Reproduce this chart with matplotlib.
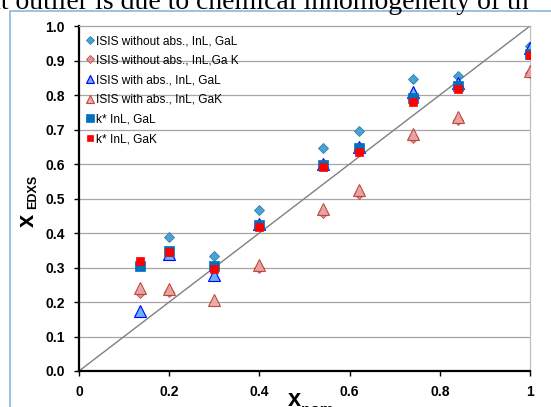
import numpy as np
import matplotlib
matplotlib.use('Agg')
import matplotlib.pyplot as plt
from matplotlib.patches import Rectangle

plt.rcParams['font.family'] = ['Liberation Sans', 'DejaVu Sans']

# nominal composition
x_nom = [0.135, 0.2, 0.3, 0.4, 0.54, 0.62, 0.74, 0.84, 1.0]

# measured x_EDXS for each method
isis_noabs_gal = [0.31, 0.388, 0.332, 0.467, 0.645, 0.695, 0.846, 0.855, 0.943]
isis_noabs_gak = [0.227, 0.23, np.nan, 0.298, 0.458, 0.512, 0.674, 0.728, 0.863]
isis_abs_gal = [0.175, 0.339, 0.278, 0.426, 0.60, 0.65, 0.81, 0.834, 0.936]
isis_abs_gak = [0.24, 0.239, 0.205, 0.307, 0.471, 0.524, 0.686, 0.735, 0.871]
kstar_gal = [0.305, 0.349, 0.305, 0.422, 0.597, 0.645, 0.79, 0.825, 0.919]
kstar_gak = [0.318, 0.344, 0.297, 0.416, 0.59, 0.635, 0.78, 0.817, 0.916]

labels = ['ISIS without abs., InL, GaL', 'ISIS without abs., InL,Ga K',
          'ISIS with abs., InL, GaL', 'ISIS with abs., InL, GaK',
          'k* InL, GaL', 'k* InL, GaK']

W, H = 551, 407
fig = plt.figure(figsize=(W / 100, H / 100), dpi=100)
ax = fig.add_axes([79 / W, 1 - 371 / H, (530 - 79) / W, (371 - 26) / H])

# text of the page above the chart (cut off)
fig.text(-13 / W, 1 - 9 / H, 'nt outlier is due to chemical inhomogeneity of th',
         family='Liberation Serif', fontsize=20, va='baseline', ha='left')

# chart area border
fig.patches.append(Rectangle((10 / W, -0.2), 1.5, (1 - 11 / H) + 0.2,
                             transform=fig.transFigure, fill=False,
                             edgecolor='#8DB4E2', lw=1.2))

# grid
for yv in np.arange(0.1, 1.0, 0.1):
    ax.axhline(yv, color='#A6A6A6', lw=0.9, zorder=0)

ax.plot([0, 1], [0, 1], color='#808080', lw=1.0, zorder=1)

ax.plot(x_nom, isis_noabs_gal, ls='none', marker='D', ms=5.6,
        mfc='#4BA3D0', mec='#2F7EB0', mew=0.6, label=labels[0], zorder=2)
ax.plot(x_nom, isis_noabs_gak, ls='none', marker='D', ms=5.6,
        mfc='#D99694', mec='#C0504D', mew=0.6, label=labels[1], zorder=3)
ax.plot(x_nom, isis_abs_gal, ls='none', marker='^', ms=8.5,
        mfc='#66B2FF', mec='#0000FF', mew=0.8, label=labels[2], zorder=4)
ax.plot(x_nom, isis_abs_gak, ls='none', marker='^', ms=8,
        mfc='#E6A6A6', mec='#C0392B', mew=0.8, alpha=0.9, label=labels[3], zorder=5)
ax.plot(x_nom, kstar_gal, ls='none', marker='s', ms=7.2,
        mfc='#0070C0', mec='#0070C0', mew=0.5, label=labels[4], zorder=6)
ax.plot(x_nom, kstar_gak, ls='none', marker='s', ms=6,
        mfc='#FF0000', mec='#FF0000', mew=0.5, label=labels[5], zorder=7)

ax.set_xlim(0, 1)
ax.set_ylim(0, 1)
ax.set_xticks([0, 0.2, 0.4, 0.6, 0.8, 1.0])
ax.set_xticklabels(['0', '0.2', '0.4', '0.6', '0.8', '1'])
ax.set_yticks(np.round(np.arange(0, 1.01, 0.1), 1))
ax.set_yticklabels(['%.1f' % v for v in np.arange(0, 1.01, 0.1)])
ax.tick_params(direction='out', length=3.5, width=1, color='black',
               labelsize=10, pad=6.5)
for lab in ax.get_xticklabels() + ax.get_yticklabels():
    lab.set_fontweight('bold')

ax.spines['left'].set_linewidth(1.6)
ax.spines['bottom'].set_linewidth(1.6)
ax.spines['top'].set_color('#A6A6A6')
ax.spines['top'].set_linewidth(0.9)
ax.spines['right'].set_color('#C0C0C0')
ax.spines['right'].set_linewidth(0.9)
ax.set_facecolor('white')

# axis labels built from two pieces (big x + small subscript)
fig.text(27 / W, 1 - 220 / H, 'x', rotation=90, fontsize=17, fontweight='bold',
         ha='center', va='center')
fig.text(33.5 / W, 1 - 192 / H, 'EDXS', rotation=90, fontsize=9, fontweight='bold',
         ha='center', va='center')
fig.text(294 / W, 1 - 400 / H, 'x', fontsize=17, fontweight='bold',
         ha='center', va='center')
fig.text(301 / W, 1 - 410 / H, 'nom', fontsize=11, fontweight='bold',
         ha='left', va='center')

leg = ax.legend(loc='upper left', bbox_to_anchor=(86 / W, 1 - 35 / H),
                bbox_transform=fig.transFigure, frameon=False, fontsize=8.6,
                handlelength=0.6, handletextpad=0.25, labelspacing=0.64,
                borderpad=0, borderaxespad=0, markerscale=0.75)

fig.savefig('out.png', dpi=100)
